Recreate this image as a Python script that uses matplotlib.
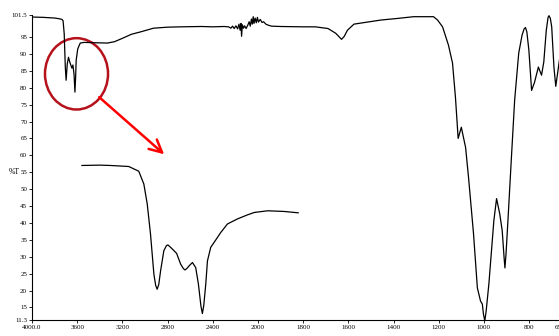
import numpy as np
import matplotlib
matplotlib.use("Agg")
import matplotlib.pyplot as plt
from matplotlib.patches import Ellipse

plt.rcParams['font.family'] = ['Liberation Serif', 'DejaVu Serif']

# IR spectrum, wavenumber (cm-1) vs %T
wn = [4000, 3900, 3800, 3760, 3735, 3725, 3715, 3705, 3698, 3688, 3677, 3665, 3647, 3638,
      3628, 3620, 3614, 3609, 3595, 3573, 3538, 3450, 3333, 3270, 3200, 3120, 3040, 2924,
      2800, 2684, 2500, 2400, 2300,
      2260, 2240, 2225, 2210, 2195, 2180, 2168, 2158, 2150, 2145, 2138, 2128, 2118, 2105,
      2090, 2078, 2068, 2058, 2050, 2042, 2035, 2025, 2015, 2005, 1998, 1990, 1982, 1975,
      1965, 1955, 1940, 1900, 1800, 1746, 1690, 1656, 1640, 1630, 1618, 1604, 1575, 1516,
      1457, 1380, 1311, 1260, 1223, 1205, 1183, 1157, 1139, 1126, 1114, 1100, 1081, 1068,
      1046, 1029, 1015, 1007, 1002, 996, 990, 978, 956, 944, 930, 919, 911, 907, 902, 892, 879, 864,
      846, 831, 822, 816, 810, 801, 789, 776, 759, 745, 735, 724, 716, 712, 706, 700, 690, 682, 664, 650]
pct_t = [100.9, 100.8, 100.6, 100.4, 100.2, 99.8, 96.0, 86.0, 82.2, 87.0, 89.0, 87.5, 85.8, 86.7,
         84.0, 78.7, 83.0, 88.1, 91.5, 93.2, 93.4, 93.3, 93.2, 93.6, 94.6, 95.8, 96.5, 97.6,
         97.9, 98.0, 98.1, 98.0, 98.1,
         98.0, 97.6, 98.2, 97.5, 98.3, 97.4, 98.8, 97.0, 99.0, 95.2, 98.6, 97.6, 98.3, 97.5,
         98.5, 99.5, 98.2, 100.3, 98.8, 101.0, 99.0, 100.6, 99.2, 100.8, 99.4, 100.2, 99.3, 99.5,
         98.8, 98.5, 98.2, 98.1, 98.0, 98.0, 97.5, 96.1, 95.0, 94.3, 95.2, 97.0, 98.8, 99.4,
         100.0, 100.5, 101.0, 101.0, 101.0, 100.0, 98.0, 92.6, 87.3, 77.2, 65.0, 68.3, 62.3, 53.4,
         36.8, 20.8, 16.9, 16.0, 13.0, 11.0, 14.0, 22.0, 40.7, 47.2, 42.7, 37.7, 30.0, 26.7, 31.0, 42.7, 58.5, 76.3,
         90.2, 95.6, 97.4, 97.8, 96.5, 91.1, 79.2, 81.6, 86.1, 83.7, 87.6, 97.0, 100.8, 101.3, 100.5, 98.0, 86.0, 80.4, 89.0, 93.0]

# magnified view of the circled band, drawn on the same axes
inset_wn = [3558, 3400, 3307, 3144, 3055, 3010, 2980, 2951, 2921, 2905, 2892, 2878, 2862, 2833,
            2810, 2797, 2780, 2758, 2720, 2684, 2660, 2646, 2630, 2610, 2580, 2551, 2527, 2505,
            2492, 2480, 2462, 2447, 2418, 2373, 2329, 2270, 2181, 2092, 2033, 1957, 1884, 1822]
inset_t = [57.0, 57.1, 57.0, 56.7, 55.3, 51.5, 45.6, 36.7, 24.8, 21.5, 20.4, 21.8, 25.8, 31.8,
           33.3, 33.5, 33.0, 32.3, 31.0, 27.8, 26.5, 26.1, 26.5, 27.3, 28.3, 26.8, 21.9, 15.5,
           13.2, 15.5, 21.9, 28.8, 32.8, 35.0, 37.2, 39.7, 41.2, 42.4, 43.1, 43.6, 43.4, 43.0]

x_ticks = [4000, 3600, 3200, 2800, 2400, 2000, 1800, 1600, 1400, 1200, 1000, 800, 650]
x_labels = ['4000.0', '3600', '3200', '2800', '2400', '2000', '1800', '1600', '1400',
            '1200', '1000', '800', '650.0']
y_ticks = [11.3, 15, 20, 25, 30, 35, 40, 45, 50, 55, 60, 65, 70, 75, 80, 85, 90, 95, 101.5]
y_labels = ['11.3'] + [str(v) for v in range(15, 100, 5)] + ['101.5']


# the instrument doubles the scale below 2000 cm-1
def fwd(w):
    w = np.asarray(w, dtype=float)
    return np.where(w >= 2000, w, 2 * w - 2000)


def inv(u):
    u = np.asarray(u, dtype=float)
    return np.where(u >= 2000, u, (u + 2000) / 2)


fig = plt.figure(figsize=(5.59, 3.36), dpi=100)
ax = fig.add_axes([32 / 559, 16 / 336, 531 / 559, 305 / 336])
ax.set_xscale('function', functions=(fwd, inv))

ax.plot(wn, pct_t, color='black', lw=0.9)
ax.plot(inset_wn, inset_t, color='black', lw=0.9)

ax.set_xlim(4000, 650)
ax.set_ylim(11.3, 101.5)
ax.set_xticks(x_ticks)
ax.set_xticklabels(x_labels)
ax.set_yticks(y_ticks)
ax.set_yticklabels(y_labels)
ax.xaxis.set_minor_locator(matplotlib.ticker.NullLocator())
ax.tick_params(labelsize=5, length=2, width=0.6, pad=1.5)
ax.spines['top'].set_visible(False)
ax.spines['right'].set_visible(False)
ax.spines['left'].set_linewidth(0.8)
ax.spines['bottom'].set_linewidth(0.8)
ax.set_ylabel('%T', fontsize=5.5, rotation=0, va='center', ha='right')
ax.yaxis.set_label_coords(-0.023, 0.485)

# red circle round the doublet and the arrow to the zoomed copy
ax.add_patch(Ellipse((3606, 84.1), 558, 21.1, fill=False, edgecolor='#b5121b', lw=1.8, clip_on=False))
ax.annotate('', xy=(2830, 60.3), xytext=(3405, 77.2),
            arrowprops=dict(arrowstyle='->, head_length=0.9, head_width=0.45',
                            color='#ff0000', lw=1.8, shrinkA=0, shrinkB=0))

fig.savefig('out.png', dpi=100)
